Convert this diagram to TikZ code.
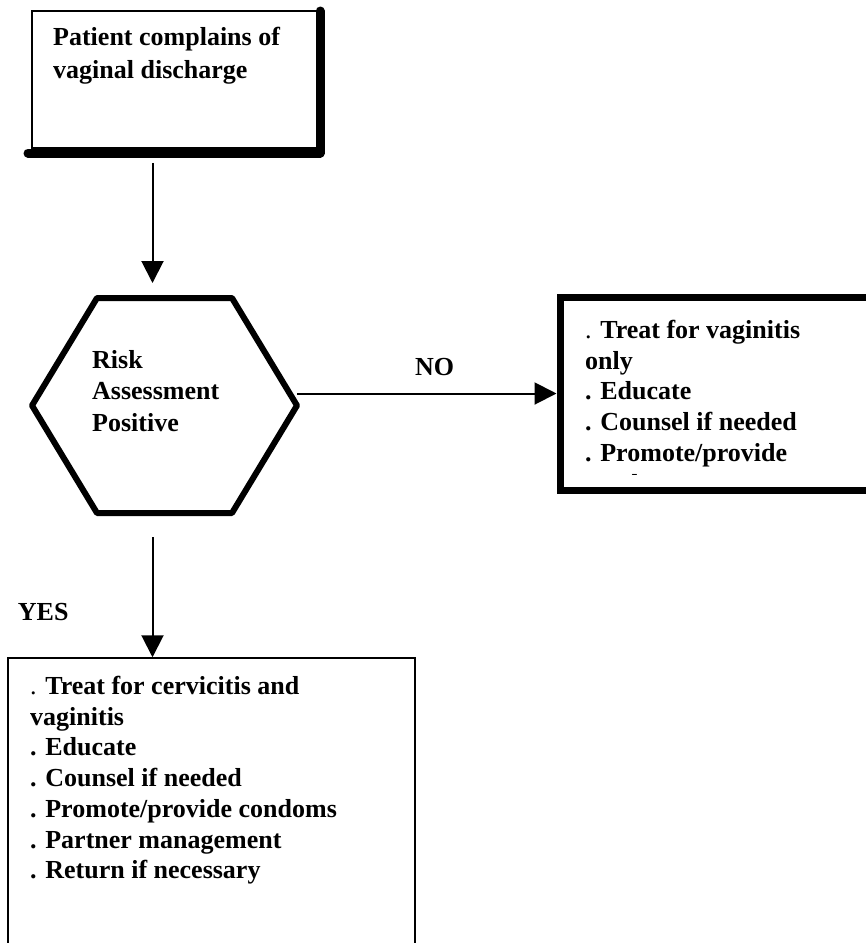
\documentclass[tikz,border=0pt]{standalone}
\usepackage{fontspec}
\setmainfont{Liberation Serif}
\usetikzlibrary{arrows.meta,calc}

\begin{document}
\begin{tikzpicture}[x=1pt,y=1pt,
        every node/.style = {font=\bfseries\fontsize{26}{31}\selectfont, inner sep=0pt},
        box/.style = {draw, rectangle, line width=1.5pt},
        thickbox/.style = {draw, rectangle, line width=7pt},
        hexline/.style = {line width=6pt, line join=round},
        shadowline/.style = {line width=9pt, line cap=round, line join=round},
        flow/.style = {-{Triangle[length=22pt,width=22pt]}, line width=2pt},
        listtext/.style = {align=left, anchor=north west,
            font=\bfseries\fontsize{26}{30.7}\selectfont}]
    \useasboundingbox (0,0) rectangle (866,-943);

    % first box
    \node[box, minimum width=285pt, minimum height=137pt] (complaint) at (174.5,-79.5) {};
    \draw[shadowline] (28,-153) -- (320,-153) -- (320,-11);
    \node[listtext, font=\bfseries\fontsize{26}{33}\selectfont] (complainttext) at (53,-27)
        {Patient complains of\\vaginal discharge};

    % decision
    \node[outer sep=0pt, minimum width=265pt, minimum height=215pt] (risk) at (164.5,-405.5) {};
    \draw[hexline] (risk.west) -- ([xshift=65pt]risk.north west) -- ([xshift=-65pt]risk.north east)
        -- (risk.east) -- ([xshift=-65pt]risk.south east) -- ([xshift=65pt]risk.south west) -- cycle;
    \node[listtext, font=\bfseries\fontsize{26}{31.5}\selectfont] (risktext) at (92,-350)
        {Risk\\Assessment\\Positive};

    % NO branch
    \node[thickbox, minimum width=340pt, minimum height=193pt] (vaginitis) at (730,-393.5) {};
    \begin{scope}
        \clip (560,-297) rectangle (900,-474);
        \node[listtext] (vaginitistext) at (585,-320)
            {\textmd{.} Treat for vaginitis\\only\\. Educate\\. Counsel if needed\\. Promote/provide\\condoms};
    \end{scope}

    % YES branch
    \node[box, minimum width=407pt, minimum height=320pt] (cervicitis) at (211.5,-818) {};
    \node[listtext] (cervicitistext) at (30,-676)
        {\textmd{.} Treat for cervicitis and\\vaginitis\\. Educate\\. Counsel if needed\\
         . Promote/provide condoms\\. Partner management\\. Return if necessary};

    % connectors
    \draw[flow] ($(risk.north |- complaint.south)+(-12,-14)$) -- ($(risk.north)+(-12,15)$);
    \draw[flow] (risk.east |- vaginitis.west) -- node[above=17pt, pos=0.53] (no) {NO} (vaginitis.west);
    \draw[flow] ($(risk.south)+(-12,-24)$) -- node[left=83pt, pos=0.62] (yes) {YES}
        ($(risk.south |- cervicitis.north)+(-12,0)$);
\end{tikzpicture}
\end{document}
